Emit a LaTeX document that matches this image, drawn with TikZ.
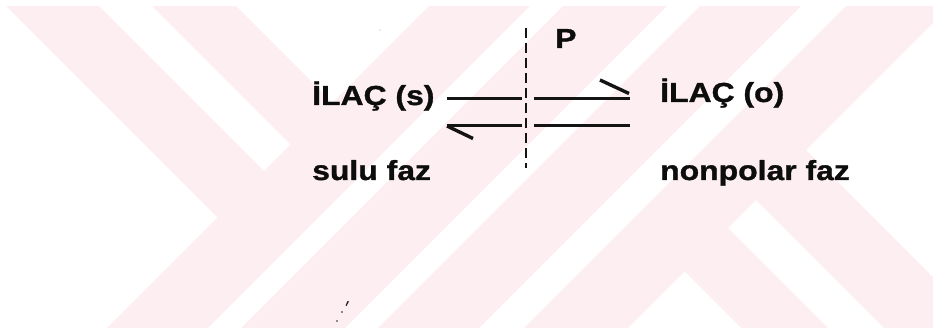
\documentclass[tikz,border=0pt]{standalone}
\usepackage{fontspec}
\setmainfont{Liberation Sans}[FakeStretch=1.16, FakeBold=1.2]
\definecolor{filigran}{RGB}{253,238,241}

\begin{document}
\begin{tikzpicture}[x=1pt, y=-1pt,
    etiket/.style={anchor=base west, inner sep=0pt, text=black!95, font=\fontsize{27.5}{30}\selectfont\bfseries},
    cizgi/.style={line width=3pt, black!92}]
    \useasboundingbox (0,0) rectangle (933,328);
    % filigran
    \begin{scope}
        \clip (0,7) rectangle (933,328);
        \fill[filigran] (-100,-100) -- (-7,-100) -- (269,176) -- (222.5,222.5) -- cycle;
        \fill[filigran] (46,-100) -- (130,-100) -- (337.5,107.5) -- (295.5,149.5) -- cycle;
        \foreach \a/\b in {435/536, 569/673, 706/807, 852/956} {
            \fill[filigran] (\a+100,-100) -- (\b+100,-100) -- (\b-500,500) -- (\a-500,500) -- cycle;
        }
        \fill[filigran] (681.5,268.5) -- (725,225) -- (1000,500) -- (913,500) -- cycle;
        \fill[filigran] (753,197) -- (803,147) -- (1156,500) -- (1056,500) -- cycle;
    \end{scope}
    % fazlar
    \node[etiket] (ilacs) at (312,105) {İLAÇ (s)};
    \node[etiket] (ilaco) at (660,102) {İLAÇ (o)};
    \node[etiket] (sulu) at (312,180) {sulu faz};
    \node[etiket] (nonpolar) at (660,180) {nonpolar faz};
    \node[etiket] (p) at (555,48) {P};
    % zar
    \coordinate (zarust) at (526,28);
    \coordinate (zaralt) at (526,168);
    \draw[cizgi, line width=2.8pt, dash pattern=on 10pt off 5pt] (zarust) -- (zaralt);
    % ileri yon
    \coordinate (ileri1) at (447,99); \coordinate (ileri2) at (522,99);
    \coordinate (ileri3) at (534,99); \coordinate (ileri4) at (630,99);
    \draw[cizgi] (ileri1) -- (ileri2); \draw[cizgi] (ileri3) -- (ileri4);
    \draw[cizgi, line width=3.4pt] (600,80) -- (629,93.5); % kanca
    % geri yon
    \coordinate (geri1) at (630,126); \coordinate (geri2) at (534,126);
    \coordinate (geri3) at (522,126); \coordinate (geri4) at (447,126);
    \draw[cizgi] (geri1) -- (geri2); \draw[cizgi] (geri3) -- (geri4);
    \draw[cizgi, line width=3.4pt] (geri4) -- (473,138.5); % kanca
    % lekeler
    \fill[black!85] (347.5,301) -- (349,301.5) -- (346.5,306) -- (345.5,305.5) -- cycle;
    \fill[black!85] (342,312) circle (0.9);
    \fill[black!85] (337,321) circle (0.9);
    \fill[black!35] (380,30) circle (0.7);
\end{tikzpicture}
\end{document}
